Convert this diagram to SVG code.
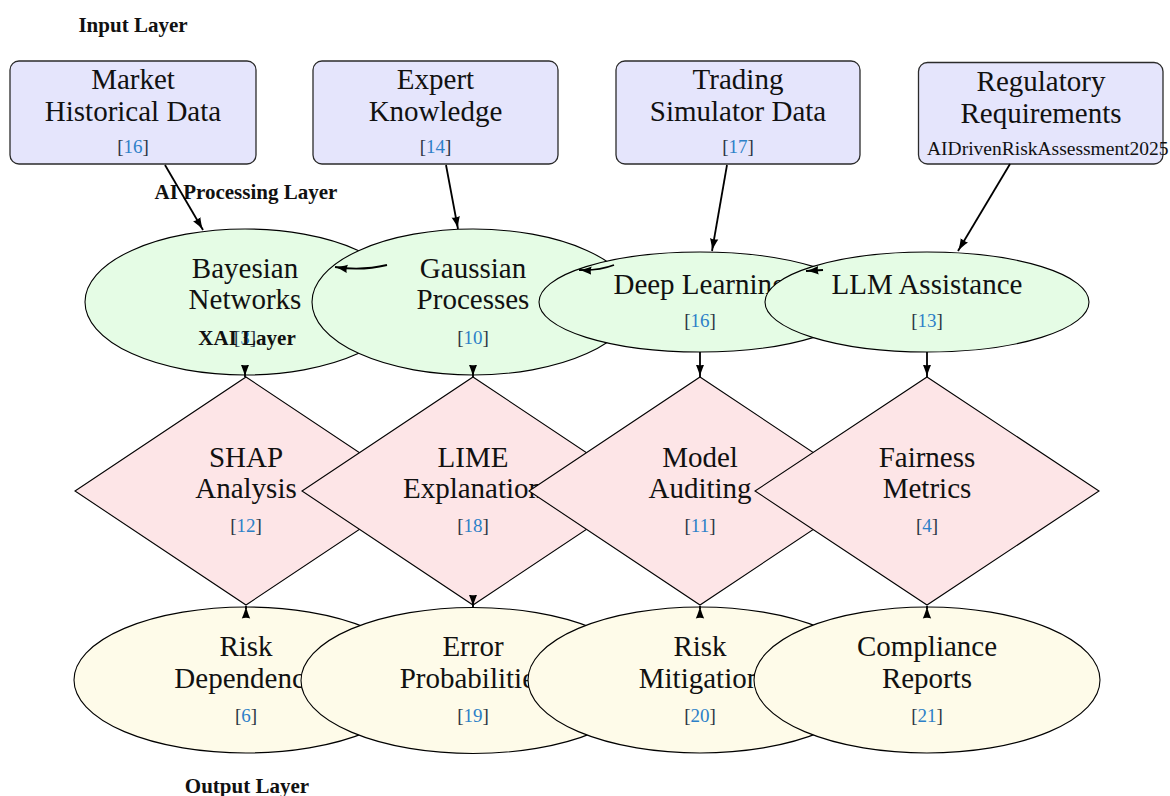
<svg xmlns="http://www.w3.org/2000/svg" width="1170" height="796" viewBox="0 0 1170 796">
  <defs>
    <marker id="arrow" markerUnits="userSpaceOnUse" markerWidth="14" markerHeight="10" viewBox="0 0 14 10" refX="12.5" refY="5" orient="auto">
      <path d="M0,0.8 C4.5,2.8 8.5,4.2 12.5,5 C8.5,5.8 4.5,7.2 0,9.2 C1,6.5 1,3.5 0,0.8 z" fill="#000"/>
    </marker>
    <style>
      .input rect { fill: #e5e5fc; stroke: #2b2b2b; stroke-width: 1.3; }
      .proc ellipse { fill: #e5fce5; stroke: #000; stroke-width: 1.1; }
      .xai polygon { fill: #fde5e7; stroke: #000; stroke-width: 1.1; }
      .out ellipse { fill: #fefbe9; stroke: #000; stroke-width: 1.1; }
      text { font-family: "Liberation Serif", "Times New Roman", serif; fill: #111; }
      .lbl { font-size: 29px; text-anchor: middle; }
      .cite { font-size: 19px; text-anchor: middle; fill: #2a3442; }
      .cite tspan.num { fill: #2c80c8; }
      .layer { font-size: 21px; font-weight: bold; text-anchor: middle; }
      .conn path { fill: none; stroke: #000; stroke-width: 1.8; marker-end: url(#arrow); }
    </style>
  </defs>

  <!-- Input layer -->
  <g id="market" class="input">
    <rect x="10" y="61" width="246" height="103" rx="9"/>
    <text class="lbl" x="133" y="89">Market</text>
    <text class="lbl" x="133" y="121">Historical Data</text>
    <text class="cite" x="133" y="153">[<tspan class="num">16</tspan>]</text>
  </g>
  <g id="expert" class="input">
    <rect x="313" y="61" width="245" height="103" rx="9"/>
    <text class="lbl" x="435.5" y="89">Expert</text>
    <text class="lbl" x="435.5" y="121">Knowledge</text>
    <text class="cite" x="435.5" y="153">[<tspan class="num">14</tspan>]</text>
  </g>
  <g id="simulator" class="input">
    <rect x="616" y="61" width="244" height="103" rx="9"/>
    <text class="lbl" x="738" y="89">Trading</text>
    <text class="lbl" x="738" y="121">Simulator Data</text>
    <text class="cite" x="738" y="153">[<tspan class="num">17</tspan>]</text>
  </g>
  <g id="regulatory" class="input">
    <rect x="918.5" y="62.5" width="244.5" height="101.5" rx="9"/>
    <text class="lbl" x="1041" y="91">Regulatory</text>
    <text class="lbl" x="1041" y="123">Requirements</text>
    <text x="927" y="155" style="font-size:19.5px">AIDrivenRiskAssessment2025</text>
  </g>

  <!-- AI processing layer -->
  <g id="bayesian" class="proc">
    <ellipse cx="245" cy="302" rx="160" ry="73"/>
    <text class="lbl" x="245" y="278">Bayesian</text>
    <text class="lbl" x="245" y="309">Networks</text>
    <text class="cite" x="245" y="344">[<tspan class="num">3</tspan>]</text>
  </g>
  <g id="gaussian" class="proc">
    <ellipse cx="473" cy="302" rx="161" ry="73"/>
    <text class="lbl" x="473" y="278">Gaussian</text>
    <text class="lbl" x="473" y="309">Processes</text>
    <text class="cite" x="473" y="344">[<tspan class="num">10</tspan>]</text>
  </g>
  <g id="deeplearning" class="proc">
    <ellipse cx="700" cy="302" rx="161" ry="50"/>
    <text class="lbl" x="700" y="294">Deep Learning</text>
    <text class="cite" x="700" y="327">[<tspan class="num">16</tspan>]</text>
  </g>
  <g id="llm" class="proc">
    <ellipse cx="927" cy="302" rx="162" ry="50"/>
    <text class="lbl" x="927" y="294">LLM Assistance</text>
    <text class="cite" x="927" y="327">[<tspan class="num">13</tspan>]</text>
  </g>

  <!-- XAI layer -->
  <g id="shap" class="xai">
    <polygon points="246,377 417,491 246,605 75,491"/>
    <text class="lbl" x="246" y="467">SHAP</text>
    <text class="lbl" x="246" y="498">Analysis</text>
    <text class="cite" x="246" y="532">[<tspan class="num">12</tspan>]</text>
  </g>
  <g id="lime" class="xai">
    <polygon points="473,377 644,491 473,605 302,491"/>
    <text class="lbl" x="473" y="467">LIME</text>
    <text class="lbl" x="473" y="498">Explanation</text>
    <text class="cite" x="473" y="532">[<tspan class="num">18</tspan>]</text>
  </g>
  <g id="auditing" class="xai">
    <polygon points="700,377 871,491 700,605 529,491"/>
    <text class="lbl" x="700" y="467">Model</text>
    <text class="lbl" x="700" y="498">Auditing</text>
    <text class="cite" x="700" y="532">[<tspan class="num">11</tspan>]</text>
  </g>
  <g id="fairness" class="xai">
    <polygon points="927,377 1099,491 927,605 755,491"/>
    <text class="lbl" x="927" y="467">Fairness</text>
    <text class="lbl" x="927" y="498">Metrics</text>
    <text class="cite" x="927" y="532">[<tspan class="num">4</tspan>]</text>
  </g>

  <!-- Output layer -->
  <g id="dependence" class="out">
    <ellipse cx="246" cy="680" rx="172" ry="73"/>
    <text class="lbl" x="246" y="656">Risk</text>
    <text class="lbl" x="246" y="688">Dependence</text>
    <text class="cite" x="246" y="722">[<tspan class="num">6</tspan>]</text>
  </g>
  <g id="errors" class="out">
    <ellipse cx="473" cy="680.5" rx="172" ry="73"/>
    <text class="lbl" x="473" y="656">Error</text>
    <text class="lbl" x="473" y="688">Probabilities</text>
    <text class="cite" x="473" y="722">[<tspan class="num">19</tspan>]</text>
  </g>
  <g id="mitigation" class="out">
    <ellipse cx="700" cy="680" rx="172" ry="73"/>
    <text class="lbl" x="700" y="656">Risk</text>
    <text class="lbl" x="700" y="688">Mitigation</text>
    <text class="cite" x="700" y="722">[<tspan class="num">20</tspan>]</text>
  </g>
  <g id="compliance" class="out">
    <ellipse cx="927" cy="680" rx="173" ry="73"/>
    <text class="lbl" x="927" y="656">Compliance</text>
    <text class="lbl" x="927" y="688">Reports</text>
    <text class="cite" x="927" y="722">[<tspan class="num">21</tspan>]</text>
  </g>

  <!-- Layer titles -->
  <g id="layer-titles">
    <text class="layer" x="133" y="32">Input Layer</text>
    <text class="layer" x="246" y="199">AI Processing Layer</text>
    <text class="layer" x="247" y="345">XAI Layer</text>
    <text class="layer" x="247" y="793">Output Layer</text>
  </g>

  <!-- Connectors -->
  <g id="connectors" class="conn">
    <path d="M165,165 L203,230"/>
    <path d="M446,165 L458,229"/>
    <path d="M727,165 L712,251"/>
    <path d="M1010,164 L958,251"/>

    <path d="M387,265 Q362,271 335,267"/>
    <path d="M614,265 Q598,271 579,270"/>
    <path d="M823,270 L806,271"/>

    <path d="M245,373 L245,377"/>
    <path d="M473,373 L473,377"/>
    <path d="M700,352 L700,377"/>
    <path d="M927,352 L927,377"/>

    <path d="M246,609 L246,606"/>
    <path d="M473,603 L473,607"/>
    <path d="M700,609 L700,606"/>
    <path d="M927,609 L927,606"/>
  </g>
</svg>
